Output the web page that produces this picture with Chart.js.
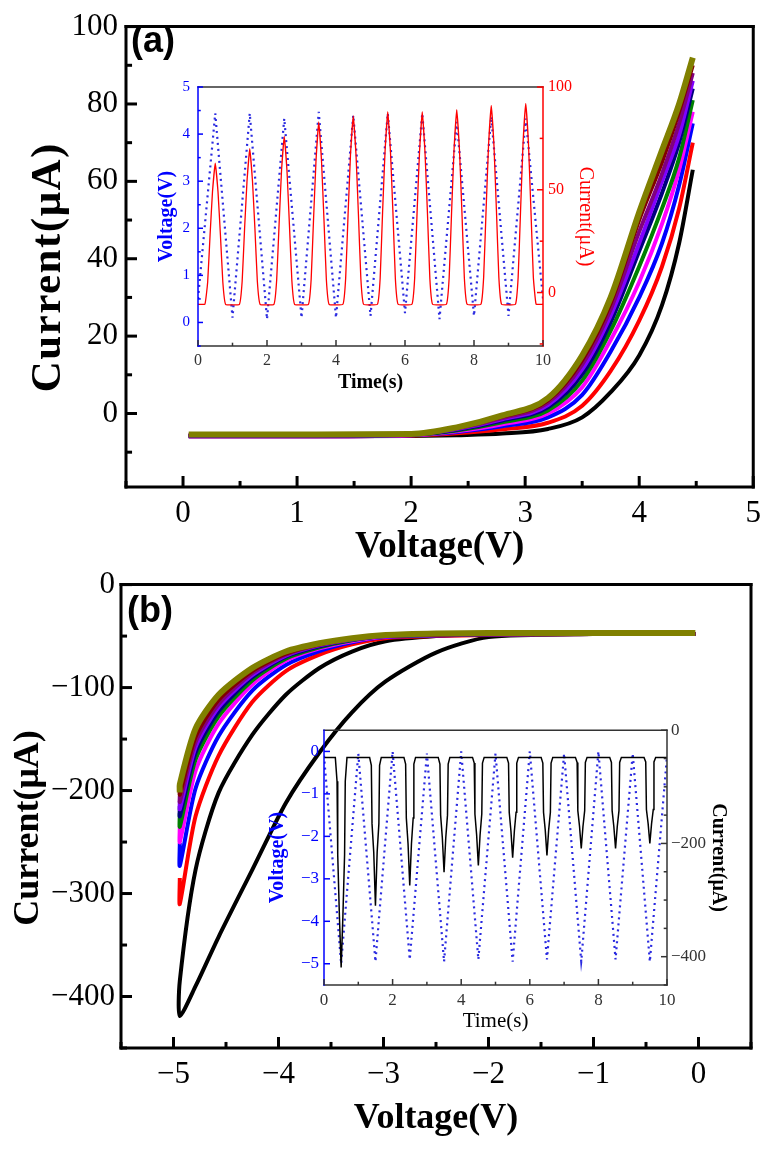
<!DOCTYPE html>
<html>
<head>
<meta charset="utf-8">
<title>I-V cycles</title>
<script src="https://cdn.jsdelivr.net/npm/chart.js@4.4.1/dist/chart.umd.min.js"></script>
<style>
  html, body { margin: 0; padding: 0; background: #fff; }
  #page { position: relative; width: 769px; height: 1158px; overflow: hidden; }
  canvas { position: absolute; }
</style>
</head>
<body>
<div id="page">
  <canvas id="mainA" width="769" height="580" style="left:0;top:0"></canvas>
  <canvas id="mainB" width="769" height="598" style="left:0;top:560px"></canvas>
  <canvas id="insetA" width="480" height="340" style="left:140px;top:70px"></canvas>
  <canvas id="insetB" width="520" height="330" style="left:230px;top:715px"></canvas>
</div>
<script>
// ---------- panel (a): positive sweep, current of each of the 10 cycles ----------
const sweepA = [0.05, 1, 2, 2.4, 2.8, 3.2, 3.5, 3.75, 4.0, 4.2, 4.35, 4.47];
const curA1 = [-5.9, -5.9, -5.8, -5.6, -5.2, -4.0, -1.0, 5.5, 15, 28, 44, 63];
const curA2 = [-5.9, -5.9, -5.7, -5.1, -4.1, -2.4, 2.0, 11, 24, 38, 53, 70];
const curA3 = [-5.9, -5.9, -5.6, -4.8, -3.3, -1.0, 4.8, 16, 30, 44, 59, 75];
const curA4 = [-5.9, -5.9, -5.6, -4.6, -2.8, 0.0, 6.8, 19, 34, 49, 63, 78];
const curA5 = [-5.8, -5.8, -5.5, -4.4, -2.3, 0.8, 8.5, 21.4, 38, 53, 66, 81];
const curA6 = [-5.8, -5.8, -5.5, -4.2, -1.8, 1.6, 10.1, 23.6, 42, 57, 70, 84];
const curA7 = [-5.7, -5.7, -5.4, -4.0, -1.5, 2.2, 11.4, 25.3, 44, 60, 72, 86];
const curA8 = [-5.6, -5.6, -5.4, -3.9, -1.2, 2.8, 12.6, 26.9, 47, 62, 75, 88];
const curA9 = [-5.5, -5.5, -5.35, -3.7, -0.8, 3.4, 13.8, 28.5, 50, 65, 78, 90];
const curA10 = [-5.4, -5.4, -5.3, -3.6, -0.5, 4.0, 15, 30, 52, 68, 80, 92];

// ---------- panel (b): negative sweep ----------
const sweepB = [-0.03, -1, -2, -2.5, -2.98, -3.3, -3.61, -3.93, -4.25, -4.57, -4.79, -4.94];
const curB1 = [-48, -48, -51, -66, -94, -124, -163, -212, -277, -342, -390, -419];
const curB1back = [-48, -48, -48, -50, -55, -65, -81, -107, -146, -202, -277, -385];
const curB2 = [-48, -48, -49, -50, -52, -58, -68, -84, -114, -166, -225, -310];
const curB3 = [-48, -48, -48.5, -49.5, -51, -56, -64.5, -78, -103, -147, -198, -273];
const curB4 = [-48, -48, -48.5, -49, -50.5, -55, -62, -74, -97, -135, -181, -250];
const curB5 = [-48, -48, -48.3, -49, -50, -54, -61, -72, -93, -128, -170, -235];
const curB6 = [-48, -48, -48.2, -48.8, -49.8, -53.6, -60, -70, -90, -123, -163, -225];
const curB7 = [-48, -48, -48.2, -48.7, -49.6, -53.3, -59, -69, -88, -119, -158, -218];
const curB8 = [-48, -48, -48.1, -48.6, -49.5, -53, -58.5, -68, -86, -116, -153, -211];
const curB9 = [-48, -48, -48.1, -48.5, -49.3, -52.5, -58, -67, -84, -112, -148, -204];
const curB10 = [-47, -47, -47, -47.5, -49, -52, -57, -65, -81, -107, -140, -194];
const loopEndB = [-385, -285, -251, -235, -222, -215, -210, -205, -198, -202];

// ---------- inset (a): applied voltage vertices and current pulses ----------
const timeVertex = [0, 0.5, 1, 1.5, 2, 2.5, 3, 3.5, 4, 4.5, 5, 5.5, 6, 6.5, 7, 7.5, 8, 8.5, 9, 9.5, 10];
const voltInsetA = [0.5, 4.44, 0.1, 4.44, 0.07, 4.33, 0.1, 4.47, 0.1, 4.4, 0.14, 4.44, 0.2, 4.44, 0.07, 4.26, 0.14, 4.37, 0.14, 4.33, 0.5];
const pulseOffsetA = [0.3, 0.22, 0.15, 0.08];     // s before / after each pulse centre
const pulseBaseA = -5.7;
const pulseFootA = [5, 5.5, 6, 6.5, 7, 7, 7, 7.2, 7.5, 7.5];
const pulseHalfA = [28, 31, 33, 36, 38, 39, 39, 39, 40, 40];
const pulseUpperA = [49, 54, 59, 64, 67, 68, 68, 69, 71, 72];
const pulsePeakA = [63, 70, 76, 83, 86, 88, 88, 89, 91, 92];

// ---------- inset (b) ----------
const voltInsetB = [-0.1, -5.0, -0.05, -4.95, 0, -4.9, -0.05, -4.95, 0, -4.9, -0.05, -4.95, 0, -4.9, -0.05, -4.95, 0, -4.9, -0.05, -4.95, -0.1];
const pulseOffsetB = [0.17, 0.12, 0.1, 0.05];
const pulseBaseB = -48;
const pulseCornerB = [-90, -62, -60, -60, -58, -58, -58, -57, -57, -56];
const pulseWallB = [-220, -165, -155, -150, -148, -145, -145, -142, -142, -140];
const pulseTipB = [-330, -215, -200, -190, -185, -178, -176, -170, -170, -165];
const pulsePeakB = [-419, -310, -274, -251, -239, -225, -221, -209, -209, -200];

// tick labels
const ticksAx = [0, 1, 2, 3, 4, 5];
const ticksAy = [0, 20, 40, 60, 80, 100];
const ticksBx = [-5, -4, -3, -2, -1, 0];
const ticksBy = [0, -100, -200, -300, -400];
const ticksTime = [0, 2, 4, 6, 8, 10];
const ticksVoltInA = [0, 1, 2, 3, 4, 5];
const ticksCurInA = [0, 50, 100];
const ticksVoltInB = [0, -1, -2, -3, -4, -5];
const ticksCurInB = [0, -200, -400];

const cycleColors = ['#000000', '#ff0000', '#0000ff', '#ff00ff', '#008000', '#000080', '#8000ff', '#800080', '#800000', '#808000'];

const cyclesA = [curA1, curA2, curA3, curA4, curA5, curA6, curA7, curA8, curA9, curA10];
const cyclesB = [curB1, curB2, curB3, curB4, curB5, curB6, curB7, curB8, curB9, curB10];

const serif = 'Liberation Serif';
const minus = v => String(v).replace('-', '\u2212');
const fixTicks = list => s => { s.ticks = list.map(v => ({ value: v })); };

// frame, inward ticks, panel letter and the rotated main title
const frame = {
  id: 'frame',
  afterDatasetsDraw(chart, args, o) {
    const ctx = chart.ctx, a = chart.chartArea;
    ctx.save();
    ctx.lineWidth = o.width;
    ctx.lineCap = 'butt';
    const h = o.width / 2;
    const side = (color, x1, y1, x2, y2) => {
      ctx.strokeStyle = color;
      ctx.beginPath(); ctx.moveTo(x1, y1); ctx.lineTo(x2, y2); ctx.stroke();
    };
    side(o.top, a.left - h, a.top, a.right + h, a.top);
    side(o.bottom, a.left - h, a.bottom, a.right + h, a.bottom);
    side(o.left, a.left, a.top - h, a.left, a.bottom + h);
    side(o.right, a.right, a.top - h, a.right, a.bottom + h);
    (o.ticks || []).forEach(t => {
      const sc = chart.scales[t.scale];
      ctx.strokeStyle = t.color;
      const lo = Math.ceil(sc.min / t.minor - 1e-6), hi = Math.floor(sc.max / t.minor + 1e-6);
      for (let n = lo; n <= hi; n++) {
        const v = n * t.minor;
        const major = Math.abs(v / t.major - Math.round(v / t.major)) < 1e-6;
        const len = major ? t.len : t.len * 0.55;
        const p = sc.getPixelForValue(v);
        ctx.beginPath();
        if (t.side === 'bottom') { ctx.moveTo(p, a.bottom); ctx.lineTo(p, a.bottom - len); }
        else if (t.side === 'left') { ctx.moveTo(a.left, p); ctx.lineTo(a.left + len, p); }
        else { ctx.moveTo(a.right, p); ctx.lineTo(a.right - len, p); }
        ctx.stroke();
      }
    });
    if (o.label) {
      ctx.fillStyle = '#000';
      ctx.font = 'bold 36px "Liberation Sans"';
      ctx.textBaseline = 'middle';
      ctx.fillText(o.label, o.labelX, o.labelY);
    }
    if (o.yTitle) {
      ctx.save();
      ctx.translate(o.yTitle.x, o.yTitle.y);
      ctx.rotate(-Math.PI / 2);
      ctx.font = 'bold ' + o.yTitle.size + 'px "' + serif + '"';
      ctx.letterSpacing = o.yTitle.spacing + 'px';
      ctx.fillStyle = '#000';
      ctx.textAlign = 'center';
      ctx.textBaseline = 'middle';
      ctx.fillText(o.yTitle.text, o.yTitle.spacing / 2, 0);
      ctx.restore();
    }
    ctx.restore();
  }
};

const common = {
  responsive: false,
  animation: false,
  devicePixelRatio: 1,
  plugins: { legend: { display: false }, tooltip: { enabled: false } }
};

function axis(o) {
  return Object.assign({
    type: 'linear',
    grid: { display: false, drawTicks: false },
    border: { display: false }
  }, o);
}

// ---------- main (a) ----------
new Chart(document.getElementById('mainA'), {
  type: 'line',
  data: {
    datasets: cyclesA.map((c, k) => ({
      data: c.map((y, i) => ({ x: sweepA[i], y: y })),
      borderColor: cycleColors[k],
      borderWidth: k === 9 ? 6 : 4,
      pointRadius: 0,
      cubicInterpolationMode: 'monotone',
      order: 9 - k
    }))
  },
  options: Object.assign({}, common, {
    layout: { padding: { left: 0, right: 14, top: 24, bottom: 0 } },
    plugins: Object.assign({}, common.plugins, {
      frame: {
        width: 3, top: '#000', bottom: '#000', left: '#000', right: '#000',
        ticks: [
          { scale: 'x', side: 'bottom', major: 1, minor: 0.5, len: 11, color: '#000' },
          { scale: 'y', side: 'left', major: 20, minor: 10, len: 11, color: '#000' }
        ],
        label: '(a)', labelX: 131, labelY: 42,
        yTitle: { text: 'Current(\u03bcA)', x: 49, y: 268, size: 43, spacing: 1.5 }
      }
    }),
    scales: {
      x: axis({
        min: -0.5, max: 5,
        afterBuildTicks: fixTicks(ticksAx),
        afterFit: s => { s.height = 93; },
        ticks: { font: { family: serif, size: 31 }, color: '#000', padding: 8, maxRotation: 0 },
        title: { display: true, text: 'Voltage(V)', color: '#000', font: { family: serif, size: 37, weight: 'bold', lineHeight: 1 }, padding: { top: 0, bottom: 14 } }
      }),
      y: axis({
        min: -19, max: 100,
        afterBuildTicks: fixTicks(ticksAy),
        afterFit: s => { s.width = 126; },
        ticks: { font: { family: serif, size: 31 }, color: '#000', padding: 8 }
      })
    }
  }),
  plugins: [frame]
});

// ---------- main (b) ----------
const dsB = cyclesB.map((c, k) => {
  const pts = c.map((y, i) => ({ x: sweepB[i], y: y }));
  if (k === 0) {
    for (let i = sweepB.length - 1; i >= 0; i--) pts.push({ x: sweepB[i], y: curB1back[i] });
  } else {
    pts.push({ x: sweepB[sweepB.length - 1], y: loopEndB[k] });
  }
  return {
    data: pts,
    borderColor: cycleColors[k],
    borderWidth: k === 9 ? 6 : 4,
    pointRadius: 0,
    tension: 0.25,
    order: 9 - k
  };
});

new Chart(document.getElementById('mainB'), {
  type: 'line',
  data: { datasets: dsB },
  options: Object.assign({}, common, {
    layout: { padding: { left: 0, right: 18, top: 24, bottom: 0 } },
    plugins: Object.assign({}, common.plugins, {
      frame: {
        width: 3, top: '#000', bottom: '#000', left: '#000', right: '#000',
        ticks: [
          { scale: 'x', side: 'bottom', major: 1, minor: 0.5, len: 11, color: '#000' },
          { scale: 'y', side: 'left', major: 100, minor: 50, len: 11, color: '#000' }
        ],
        label: '(b)', labelX: 127, labelY: 52,
        yTitle: { text: 'Current(\u03bcA)', x: 29, y: 268, size: 36, spacing: 0 }
      }
    }),
    scales: {
      x: axis({
        min: -5.5, max: 0.5,
        afterBuildTicks: fixTicks(ticksBx),
        afterFit: s => { s.height = 110; },
        ticks: { font: { family: serif, size: 31 }, color: '#000', padding: 8, maxRotation: 0, callback: minus },
        title: { display: true, text: 'Voltage(V)', color: '#000', font: { family: serif, size: 36, weight: 'bold', lineHeight: 1 }, padding: { top: 0, bottom: 21 } }
      }),
      y: axis({
        min: -450, max: 0,
        afterBuildTicks: fixTicks(ticksBy),
        afterFit: s => { s.width = 121; },
        ticks: { font: { family: serif, size: 31 }, color: '#000', padding: 6, callback: minus }
      })
    }
  }),
  plugins: [frame]
});

// ---------- inset (a) ----------
const insetCurA = [{ x: 0, y: pulseBaseA }];
pulsePeakA.forEach((p, k) => {
  const c = k + 0.5;
  const side = [pulseBaseA, pulseFootA[k], pulseHalfA[k], pulseUpperA[k]];
  pulseOffsetA.forEach((d, j) => insetCurA.push({ x: c - d, y: side[j] }));
  insetCurA.push({ x: c, y: p });
  for (let j = pulseOffsetA.length - 1; j >= 0; j--) insetCurA.push({ x: c + pulseOffsetA[j], y: side[j] });
});
insetCurA.push({ x: 10, y: pulseBaseA });

new Chart(document.getElementById('insetA'), {
  type: 'line',
  data: {
    datasets: [
      { data: insetCurA, yAxisID: 'y2', borderColor: '#ff0000', borderWidth: 1.3, pointRadius: 0, tension: 0.1, order: 0 },
      { data: timeVertex.map((t, i) => ({ x: t, y: voltInsetA[i] })), yAxisID: 'y', borderColor: '#2a2ae0', borderWidth: 2.2, borderDash: [2, 4], pointRadius: 0, tension: 0, order: 1 }
    ]
  },
  options: Object.assign({}, common, {
    layout: { padding: 0 },
    plugins: Object.assign({}, common.plugins, {
      frame: {
        width: 1.5, top: '#333', bottom: '#333', left: '#0000ff', right: '#ff0000',
        ticks: [
          { scale: 'x', side: 'bottom', major: 2, minor: 1, len: 6, color: '#333' },
          { scale: 'y', side: 'left', major: 1, minor: 0.5, len: 5, color: '#0000ff' },
          { scale: 'y2', side: 'right', major: 50, minor: 25, len: 6, color: '#ff0000' }
        ]
      }
    }),
    scales: {
      x: axis({
        min: 0, max: 10,
        afterBuildTicks: fixTicks(ticksTime),
        afterFit: s => { s.height = 64; },
        ticks: { font: { family: serif, size: 16 }, color: '#333', padding: 5, maxRotation: 0 },
        title: { display: true, text: 'Time(s)', color: '#000', font: { family: serif, size: 20, weight: 'bold', lineHeight: 1 }, padding: { top: 0, bottom: 17 } }
      }),
      y: axis({
        position: 'left', min: -0.5, max: 5,
        afterBuildTicks: fixTicks(ticksVoltInA),
        afterFit: s => { s.width = 58; },
        ticks: { font: { family: serif, size: 15 }, color: '#0000ff', padding: 8 },
        title: { display: true, text: 'Voltage(V)', color: '#0000ff', font: { family: serif, size: 20, weight: 'bold', lineHeight: 1 }, padding: { top: 17, bottom: 0 } }
      }),
      y2: axis({
        position: 'right', min: -26, max: 100,
        afterBuildTicks: fixTicks(ticksCurInA),
        afterFit: s => { s.width = 77; },
        ticks: { font: { family: serif, size: 16 }, color: '#ff0000', padding: 5 },
        title: { display: true, text: 'Current(\u03bcA)', color: '#ff0000', font: { family: serif, size: 20, lineHeight: 1 }, padding: { top: 25, bottom: 0 } }
      })
    }
  }),
  plugins: [frame]
});

// ---------- inset (b) ----------
const insetCurB = [{ x: 0, y: pulseBaseB }];
pulsePeakB.forEach((p, k) => {
  const c = k + 0.5;
  const side = [pulseBaseB, pulseCornerB[k], pulseWallB[k], pulseTipB[k]];
  pulseOffsetB.forEach((d, j) => insetCurB.push({ x: c - d, y: side[j] }));
  insetCurB.push({ x: c, y: p });
  for (let j = pulseOffsetB.length - 1; j >= 0; j--) insetCurB.push({ x: c + pulseOffsetB[j], y: side[j] });
});
insetCurB.push({ x: 10, y: pulseBaseB });

new Chart(document.getElementById('insetB'), {
  type: 'line',
  data: {
    datasets: [
      { data: insetCurB, yAxisID: 'y2', borderColor: '#000000', borderWidth: 1.5, pointRadius: 0, tension: 0, order: 0 },
      { data: timeVertex.map((t, i) => ({ x: t, y: voltInsetB[i] })), yAxisID: 'y', borderColor: '#2a2ae0', borderWidth: 2.2, borderDash: [2, 4], pointRadius: 0, tension: 0, order: 1 }
    ]
  },
  options: Object.assign({}, common, {
    layout: { padding: 0 },
    plugins: Object.assign({}, common.plugins, {
      frame: {
        width: 1.5, top: '#333', bottom: '#333', left: '#0000ff', right: '#333',
        ticks: [
          { scale: 'x', side: 'bottom', major: 2, minor: 1, len: 6, color: '#333' },
          { scale: 'y', side: 'left', major: 1, minor: 1, len: 6, color: '#0000ff' },
          { scale: 'y2', side: 'right', major: 200, minor: 50, len: 6, color: '#333' }
        ]
      }
    }),
    scales: {
      x: axis({
        min: 0, max: 10,
        afterBuildTicks: fixTicks(ticksTime),
        afterFit: s => { s.height = 60; },
        ticks: { font: { family: serif, size: 17 }, color: '#333', padding: 5, maxRotation: 0 },
        title: { display: true, text: 'Time(s)', color: '#000', font: { family: serif, size: 21, lineHeight: 1 }, padding: { top: 0, bottom: 13 } }
      }),
      y: axis({
        position: 'left', min: -5.5, max: 0.5,
        afterBuildTicks: fixTicks(ticksVoltInB),
        afterFit: s => { s.width = 94; },
        ticks: { font: { family: serif, size: 17 }, color: '#0000ff', padding: 5, callback: minus },
        title: { display: true, text: 'Voltage(V)', color: '#0000ff', font: { family: serif, size: 20, weight: 'bold', lineHeight: 1 }, padding: { top: 38, bottom: 0 } }
      }),
      y2: axis({
        position: 'right', min: -450, max: 0,
        afterBuildTicks: fixTicks(ticksCurInB),
        afterFit: s => { s.width = 83; },
        ticks: { font: { family: serif, size: 17 }, color: '#333', padding: 4, callback: minus },
        title: { display: true, text: 'Current(\u03bcA)', color: '#000', font: { family: serif, size: 20, weight: 'bold', lineHeight: 1 }, padding: { top: 22, bottom: 0 } }
      })
    }
  }),
  plugins: [frame]
});
</script>
</body>
</html>
